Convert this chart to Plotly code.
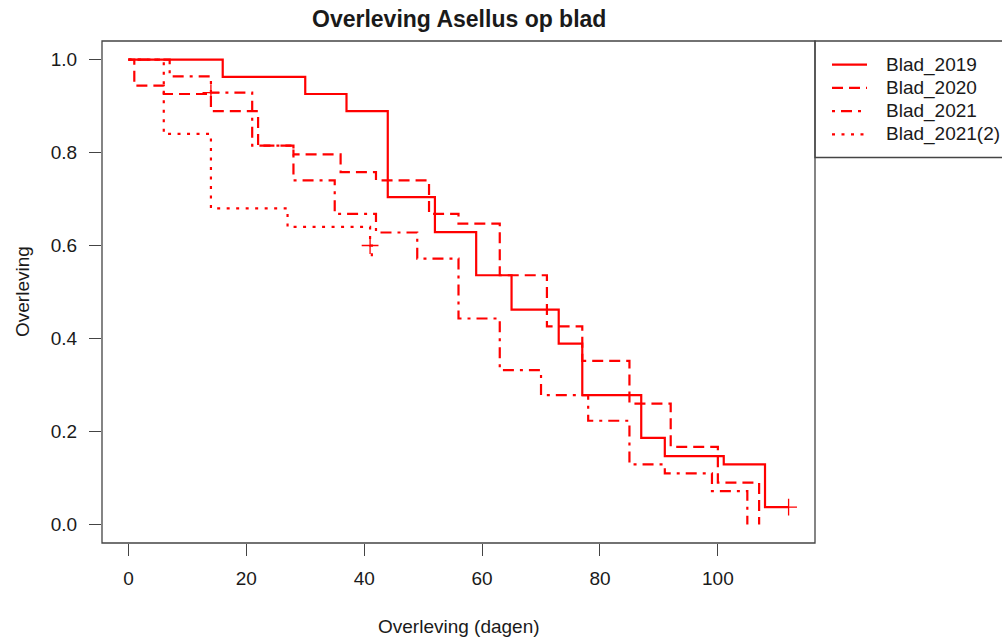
import plotly.graph_objects as go

# Kaplan-Meier survival steps per group (day of step, survival after the step)
series_names = ["Blad_2019", "Blad_2020", "Blad_2021", "Blad_2021(2)"]

days_2019 = [0, 16, 30, 37, 44, 52, 59, 65, 73, 77, 87, 91, 101, 108, 112]
surv_2019 = [1.0, 0.963, 0.926, 0.889, 0.704, 0.629, 0.536, 0.462, 0.389,
             0.278, 0.186, 0.147, 0.129, 0.037, 0.037]

days_2020 = [0, 1, 6, 14, 22, 28, 36, 42, 51, 56, 63, 71, 77, 85, 92, 100, 107]
surv_2020 = [1.0, 0.944, 0.926, 0.889, 0.815, 0.796, 0.758, 0.740, 0.668,
             0.647, 0.536, 0.426, 0.352, 0.260, 0.167, 0.090, 0.0]

days_2021 = [0, 7, 14, 21, 28, 35, 42, 49, 56, 63, 70, 78, 85, 91, 99, 105]
surv_2021 = [1.0, 0.964, 0.929, 0.815, 0.740, 0.668, 0.628, 0.572, 0.443,
             0.332, 0.278, 0.223, 0.129, 0.110, 0.0716, 0.0]

days_2021b = [0, 6, 14, 27, 41, 41.3]
surv_2021b = [1.0, 0.84, 0.68, 0.64, 0.60, 0.57]

# censored observations (+ marks)
censor_days = [[112], [], [14], [41]]
censor_surv = [[0.037], [], [0.929], [0.60]]

x_ticks = [0, 20, 40, 60, 80, 100]
y_ticks = [0.0, 0.2, 0.4, 0.6, 0.8, 1.0]
y_tick_labels = ["0.0", "0.2", "0.4", "0.6", "0.8", "1.0"]

title_text = "Overleving Asellus op blad"
x_title = "Overleving (dagen)"
y_title = "Overleving"

# ---- styling ----
RED = "#FF0000"
FRAME = "#444444"
TEXT = "#1a1a1a"
FONT = "Liberation Sans, Arial, Helvetica, sans-serif"
LW = 2.2
dash_styles = ["solid", "11px,6px", "3px,6px,11px,6px", "3px,6.5px"]

W, H = 1002, 637
PL, PR, PT, PB = 102, 815, 41, 543          # plot area in pixels


def px_x(px):
    return (px - PL) / (PR - PL)


def px_y(py):
    return (PB - py) / (PB - PT)


fig = go.Figure()

all_days = [days_2019, days_2020, days_2021, days_2021b]
all_surv = [surv_2019, surv_2020, surv_2021, surv_2021b]

for name, d, s, dash in zip(series_names, all_days, all_surv, dash_styles):
    fig.add_trace(go.Scatter(
        x=d, y=s, mode="lines", name=name, showlegend=False,
        line=dict(color=RED, width=LW, dash=dash, shape="hv"),
        hoverinfo="skip",
    ))

for name, cd, cs in zip(series_names, censor_days, censor_surv):
    if cd:
        fig.add_trace(go.Scatter(
            x=cd, y=cs, mode="markers", name=name + " censored", showlegend=False,
            marker=dict(symbol="cross-thin", size=12, color=RED,
                        line=dict(color=RED, width=1.3)),
            hoverinfo="skip",
        ))

axis_font = dict(family=FONT, size=19, color=TEXT)

x_max = max(max(d) for d in all_days)
pad = 0.04 * x_max
fig.update_xaxes(
    range=[-pad, x_max + pad], tickvals=x_ticks, ticks="outside", ticklen=12,
    tickwidth=1.3, tickcolor=FRAME, showgrid=False, zeroline=False,
    showline=False, tickfont=axis_font, ticklabelstandoff=6,
)
fig.update_yaxes(
    range=[-0.04, 1.04], tickvals=y_ticks, ticktext=y_tick_labels,
    ticks="outside", ticklen=12, tickwidth=1.3, tickcolor=FRAME,
    showgrid=False, zeroline=False, showline=False, tickfont=axis_font,
    ticklabelstandoff=8,
)

shapes = [
    # plot frame
    dict(type="rect", xref="paper", yref="paper", x0=0, x1=1, y0=0, y1=1,
         line=dict(color=FRAME, width=1.3), layer="above"),
    # legend frame
    dict(type="rect", xref="paper", yref="paper", x0=1.0, x1=px_x(1012),
         y0=px_y(157.5), y1=1.0, line=dict(color=FRAME, width=1.3)),
]

annotations = [
    dict(text="<b>" + title_text + "</b>", xref="paper", yref="paper",
         x=0.5, y=px_y(19), xanchor="center", yanchor="middle",
         showarrow=False, font=dict(family=FONT, size=23, color=TEXT)),
    dict(text=x_title, xref="paper", yref="paper", x=0.5, y=px_y(626),
         xanchor="center", yanchor="middle", showarrow=False,
         font=axis_font),
    dict(text=y_title, xref="paper", yref="paper", x=px_x(22), y=0.5,
         xanchor="center", yanchor="middle", textangle=-90,
         showarrow=False, font=axis_font),
]

# legend entries
row_y = [64.7, 87.9, 111.1, 134.3]
for name, dash, ry in zip(series_names, dash_styles, row_y):
    shapes.append(dict(type="line", xref="paper", yref="paper",
                       x0=px_x(832), x1=px_x(867), y0=px_y(ry), y1=px_y(ry),
                       line=dict(color=RED, width=LW, dash=dash)))
    annotations.append(dict(text=name, xref="paper", yref="paper",
                            x=px_x(884), y=px_y(ry), xanchor="left",
                            yanchor="middle", showarrow=False,
                            font=axis_font))

fig.update_layout(
    width=W, height=H,
    margin=dict(l=PL, r=W - PR, t=PT, b=H - PB),
    paper_bgcolor="white", plot_bgcolor="white",
    shapes=shapes, annotations=annotations, showlegend=False,
)

fig.write_html("out.html")
